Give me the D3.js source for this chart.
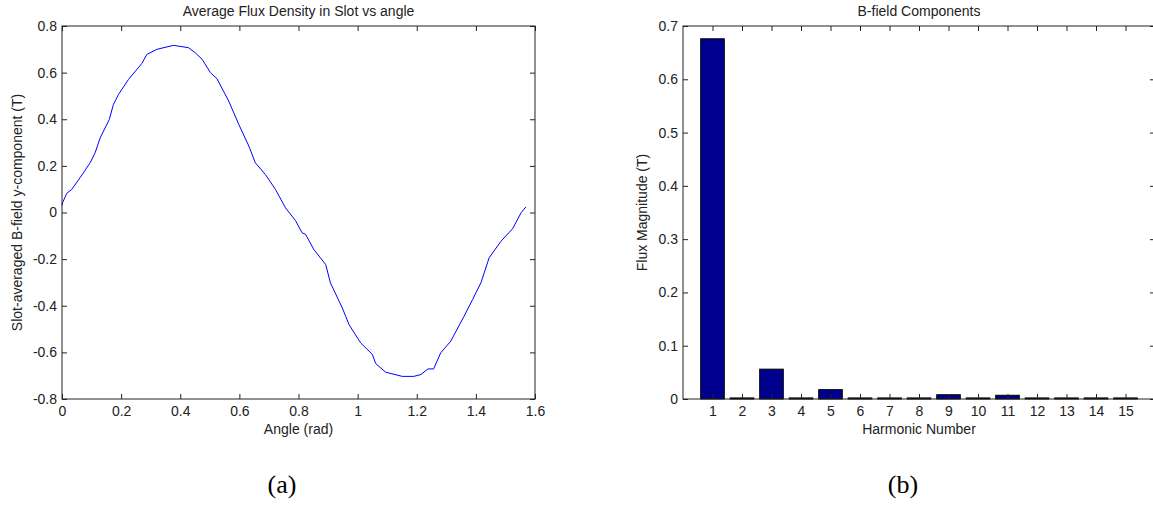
<!DOCTYPE html>
<html>
<head>
<meta charset="utf-8">
<script src="https://cdn.jsdelivr.net/npm/d3@7"></script>
<style>
  body { margin: 0; background: #fff; }
  svg text { font-family: "Liberation Sans", Arial, sans-serif; fill: #222; }
  .caption { font-family: "Liberation Serif", "DejaVu Serif", serif; fill: #000; }
</style>
</head>
<body>
<svg id="chart" width="1153" height="506"></svg>
<script>
// (a) slot-averaged flux density
const angle = [0, 0.002, 0.016, 0.033, 0.061, 0.095, 0.112, 0.129, 0.16, 0.174, 0.191, 0.225, 0.27, 0.287,
  0.321, 0.377, 0.428, 0.451, 0.474, 0.502, 0.524, 0.564, 0.598, 0.632, 0.654, 0.688, 0.722, 0.756, 0.79,
  0.812, 0.824, 0.852, 0.892, 0.908, 0.948, 0.971, 1.01, 1.05, 1.061, 1.095, 1.151, 1.19, 1.214, 1.238,
  1.257, 1.281, 1.315, 1.36, 1.389, 1.417, 1.445, 1.485, 1.524, 1.553, 1.569]
const fluxY = [0.03, 0.042, 0.082, 0.099, 0.149, 0.213, 0.256, 0.32, 0.399, 0.464, 0.506, 0.571, 0.639, 0.678,
  0.7, 0.717, 0.707, 0.685, 0.657, 0.6, 0.574, 0.478, 0.378, 0.285, 0.213, 0.163, 0.099, 0.02, -0.035,
  -0.087, -0.094, -0.159, -0.223, -0.302, -0.409, -0.481, -0.559, -0.609, -0.648, -0.685, -0.703, -0.703, -0.695, -0.671,
  -0.671, -0.602, -0.552, -0.445, -0.373, -0.302, -0.194, -0.123, -0.07, -0.001, 0.024]

// (b) harmonic components
const harmonics = d3.range(1, 16)
const magnitude = [0.676, 0.002, 0.056, 0.002, 0.0175, 0.002, 0.002, 0.002, 0.008, 0.002, 0.007, 0.002, 0.002, 0.002, 0.002]

const angleTicks = [0, 0.2, 0.4, 0.6, 0.8, 1, 1.2, 1.4, 1.6]
const fluxTicks = [-0.8, -0.6, -0.4, -0.2, 0, 0.2, 0.4, 0.6, 0.8]
const magTicks = [0, 0.1, 0.2, 0.3, 0.4, 0.5, 0.6, 0.7]

const FONT = 14
const TICK = 5
const fmt = d => String(+d.toFixed(1))

const svg = d3.select('#chart')

function frame(g, x, y, xTicks, yTicks) {
  const [x0, x1] = x.range()
  const [y1, y0] = y.range()

  g.append('g').attr('transform', `translate(0,${y1})`)
    .call(d3.axisBottom(x).tickValues(xTicks).tickFormat(fmt).tickSizeInner(-TICK).tickSizeOuter(0).tickPadding(7))
  g.append('g').attr('transform', `translate(0,${y0})`)
    .call(d3.axisTop(x).tickValues(xTicks).tickFormat('').tickSizeInner(-TICK).tickSizeOuter(0))
  g.append('g').attr('transform', `translate(${x0},0)`)
    .call(d3.axisLeft(y).tickValues(yTicks).tickFormat(fmt).tickSizeInner(-TICK).tickSizeOuter(0).tickPadding(5))
  g.append('g').attr('transform', `translate(${x1},0)`)
    .call(d3.axisRight(y).tickValues(yTicks).tickFormat('').tickSizeInner(-TICK).tickSizeOuter(0))

  g.selectAll('.domain').remove()
  g.selectAll('.tick line').attr('stroke', '#222')
  g.selectAll('.tick text').attr('font-size', FONT).attr('font-family', null).attr('fill', '#222')

  g.append('rect')
    .attr('x', x0).attr('y', y0)
    .attr('width', x1 - x0).attr('height', y1 - y0)
    .attr('fill', 'none').attr('stroke', '#222')
}

function labels(g, x, y, title, xLabel, yLabel, yLabelX) {
  const cx = (x.range()[0] + x.range()[1]) / 2
  const cy = (y.range()[0] + y.range()[1]) / 2
  g.append('text').attr('x', cx).attr('y', 16).attr('text-anchor', 'middle').attr('font-size', FONT).text(title)
  g.append('text').attr('x', cx).attr('y', 434).attr('text-anchor', 'middle').attr('font-size', FONT).text(xLabel)
  g.append('text')
    .attr('transform', `translate(${yLabelX},${cy}) rotate(-90)`)
    .attr('text-anchor', 'middle').attr('font-size', FONT).text(yLabel)
}

// ---- (a)
const gA = svg.append('g')
const xA = d3.scaleLinear().domain([0, 1.6]).range([62, 535])
const yA = d3.scaleLinear().domain([-0.8, 0.8]).range([399, 26])

gA.append('path')
  .datum(d3.zip(angle, fluxY))
  .attr('fill', 'none')
  .attr('stroke', '#0000ff')
  .attr('stroke-width', 1)
  .attr('d', d3.line().x(d => xA(d[0])).y(d => yA(d[1])))

frame(gA, xA, yA, angleTicks, fluxTicks)
labels(gA, xA, yA, 'Average Flux Density in Slot vs angle', 'Angle (rad)', 'Slot-averaged B-field y-component (T)', 22)

// ---- (b)
const gB = svg.append('g')
const xB = d3.scaleLinear().domain([0, 16]).range([683, 1155])
const yB = d3.scaleLinear().domain([0, 0.7]).range([399, 26])
const barW = xB(0.8) - xB(0)

gB.selectAll('.bar')
  .data(d3.zip(harmonics, magnitude))
  .enter().append('rect')
    .attr('class', 'bar')
    .attr('x', d => xB(d[0]) - barW / 2)
    .attr('y', d => yB(d[1]))
    .attr('width', barW)
    .attr('height', d => yB(0) - yB(d[1]))
    .attr('fill', '#00008f')
    .attr('stroke', '#000')
    .attr('stroke-width', 1)

frame(gB, xB, yB, harmonics, magTicks)
labels(gB, xB, yB, 'B-field Components', 'Harmonic Number', 'Flux Magnitude (T)', 647)

// captions
svg.append('text').attr('class', 'caption').attr('x', 282).attr('y', 493)
  .attr('text-anchor', 'middle').attr('font-size', 26).text('(a)')
svg.append('text').attr('class', 'caption').attr('x', 903).attr('y', 493)
  .attr('text-anchor', 'middle').attr('font-size', 26).text('(b)')
</script>
</body>
</html>
